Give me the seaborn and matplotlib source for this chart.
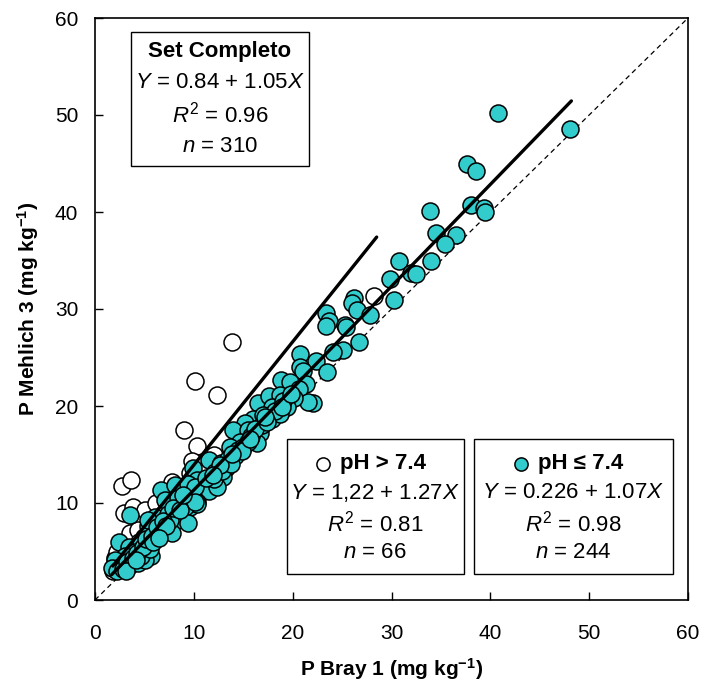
import matplotlib
matplotlib.use("Agg")
import matplotlib.pyplot as plt
import seaborn as sns
import pandas as pd
import numpy as np
from matplotlib.patches import Rectangle

# ---------------- data ----------------
teal_x = [48.1, 40.8, 37.6, 38.6, 33.9, 38.0, 39.4, 39.5, 34.5, 36.5, 35.4, 34.0, 30.8, 29.8,
          32.0, 32.5, 30.3, 26.2, 26.0, 26.5, 27.8, 23.4, 23.7, 23.4, 25.3, 25.4, 26.7, 25.1,
          24.1, 22.4, 20.7, 20.7, 21.0, 23.5, 18.8, 19.7, 21.3, 16.5, 17.6, 22.1,
          20.6, 21.6, 18.7, 20.1, 17.9, 19.4, 16.0, 17.0, 17.9, 18.7, 15.2, 14.0, 15.5, 16.7,
          16.4, 14.7, 13.7, 14.5, 11.5, 12.7, 13.3, 9.9, 12.1, 13.0, 10.3, 11.0, 11.6, 9.4,
          10.6, 11.5, 12.3, 9.3, 10.3, 9.6, 10.3,
          6.7, 8.1, 9.4, 10.1, 7.1, 8.4, 9.1, 10.1, 6.1, 7.4, 8.4, 9.4, 5.4, 6.7, 7.8, 2.4,
          3.4, 4.7, 4.0, 5.4, 5.7, 4.6, 3.0, 2.0, 2.5, 1.7, 3.5, 4.4, 5.1, 3.5,
          7.6, 6.2, 4.7, 5.6, 5.4,
          2.2, 2.8, 3.2, 3.8, 4.2, 4.9, 5.2, 5.8, 6.3, 6.9, 7.2, 7.9, 8.6, 8.9, 5.9, 6.5,
          3.1, 4.1, 12.0, 12.8, 13.5, 14.2, 15.0, 15.8, 13.8, 11.2, 16.9, 18.2, 19.0, 15.5,
          14.9, 16.2, 17.4, 18.9, 12.6, 11.9, 13.9, 15.7, 17.2, 19.8]
teal_y = [48.6, 50.2, 44.9, 44.2, 40.1, 40.7, 40.4, 40.0, 37.8, 37.6, 36.7, 34.9, 35.0, 33.1,
          33.7, 33.6, 30.9, 31.1, 30.6, 29.9, 29.4, 29.6, 28.8, 28.2, 28.4, 28.1, 26.6, 25.8,
          25.6, 24.6, 25.4, 24.0, 23.6, 23.5, 22.7, 22.5, 22.3, 20.3, 21.0, 20.3,
          21.8, 20.4, 21.1, 20.8, 19.9, 19.9, 18.7, 19.1, 18.7, 19.2, 18.2, 17.5, 17.5, 17.2,
          16.2, 16.3, 15.8, 15.5, 14.4, 14.1, 13.6, 13.6, 13.2, 12.7, 12.4, 12.0, 11.7, 11.7,
          11.0, 11.2, 11.7, 10.5, 10.1, 9.6, 9.9,
          11.3, 11.9, 12.0, 11.7, 10.3, 10.5, 9.6, 10.1, 8.6, 8.9, 8.2, 7.9, 7.6, 7.2, 6.9, 6.0,
          5.5, 5.8, 5.0, 5.2, 4.5, 4.5, 4.5, 4.1, 3.4, 3.3, 3.6, 3.8, 4.1, 8.8,
          8.2, 6.9, 4.5, 5.3, 8.2,
          3.0, 3.2, 3.9, 4.3, 4.8, 5.5, 6.3, 6.6, 7.5, 8.1, 7.6, 9.5, 9.3, 10.8, 6.0, 6.4,
          3.0, 4.1, 12.5, 13.3, 14.5, 14.8, 15.8, 16.9, 14.0, 12.6, 18.0, 19.5, 20.5, 16.3,
          15.4, 17.6, 18.3, 19.9, 13.9, 12.9, 15.1, 16.6, 18.9, 21.2]

white_x = [13.9, 10.1, 12.3, 9.0, 10.3, 9.8, 2.7, 3.6, 7.8, 2.9, 3.8, 5.1, 6.2, 3.7, 2.0,
           3.5, 4.4, 28.2, 9.6, 4.5, 5.5, 6.5, 7.5, 8.5, 2.5, 3.0, 4.0, 5.0, 6.0, 7.0, 8.0,
           11.0, 12.0, 2.2, 1.8]
white_y = [26.6, 22.6, 21.1, 17.5, 15.9, 14.3, 11.75, 12.4, 12.2, 9.0, 9.6, 9.3, 10.0, 6.7, 4.3,
           6.9, 7.2, 31.3, 13.1, 6.0, 7.0, 8.5, 9.5, 11.0, 3.5, 4.0, 5.5, 6.5, 7.8, 9.0, 10.0,
           14.0, 15.0, 5.0, 3.0]

# regression fits (intercept, slope, x range)
fit_full = (0.84, 1.05, 1.7, 48.2)
fit_high = (1.22, 1.27, 1.8, 28.5)

box_titles = ["Set Completo", "pH > 7.4", "pH \u2264 7.4"]
box_eq = [r"$\it{Y}$ = 0.84 + 1.05$\it{X}$", r"$\it{Y}$ = 1,22 + 1.27$\it{X}$",
          r"$\it{Y}$ = 0.226 + 1.07$\it{X}$"]
box_r2 = ["0.96", "0.81", "0.98"]
box_n = ["310", "66", "244"]

ticks = [0, 10, 20, 30, 40, 50, 60]
TEAL = "#33CCCC"

# ---------------- style ----------------
sns.set_theme(style="white")
plt.rcParams["font.family"] = ["Liberation Sans", "DejaVu Sans"]
plt.rcParams["mathtext.fontset"] = "custom"
plt.rcParams["mathtext.rm"] = "Liberation Sans"
plt.rcParams["mathtext.it"] = "Liberation Sans:italic"
plt.rcParams["mathtext.bf"] = "Liberation Sans:bold"
plt.rcParams["text.color"] = "black"
plt.rcParams["axes.labelcolor"] = "black"
plt.rcParams["xtick.color"] = "black"
plt.rcParams["ytick.color"] = "black"

fig = plt.figure(figsize=(7.04, 6.84), dpi=100)
ax = fig.add_axes([95 / 704, 1 - 600 / 684, 593 / 704, 582 / 684])

# 1:1 line
sns.lineplot(x=[0, 60], y=[0, 60], ax=ax, color="black", lw=0.9, linestyle=(0, (4, 3)))

df_w = pd.DataFrame({"x": white_x, "y": white_y})
df_t = pd.DataFrame({"x": teal_x, "y": teal_y})
sns.scatterplot(data=df_w, x="x", y="y", ax=ax, s=150, color="white",
                edgecolor="black", linewidth=1.1, zorder=3)
sns.scatterplot(data=df_t, x="x", y="y", ax=ax, s=150, color=TEAL,
                edgecolor="black", linewidth=1.1, zorder=4)

for a, b, x0, x1 in (fit_full, fit_high):
    xs = np.array([x0, x1])
    sns.lineplot(x=xs, y=a + b * xs, ax=ax, color="black", lw=2.4, zorder=5)

ax.set_xlim(0, 60)
ax.set_ylim(0, 60)
ax.set_xticks(ticks)
ax.set_yticks(ticks)
ax.set_xticklabels([str(t) for t in ticks])
ax.set_yticklabels([str(t) for t in ticks])
ax.tick_params(axis="both", direction="in", length=6, width=1, labelsize=15,
               colors="black", labelcolor="black", bottom=True, left=True, top=False, right=False)
ax.tick_params(axis="x", pad=17)
ax.tick_params(axis="y", pad=12)
for s in ax.spines.values():
    s.set_color("black")
    s.set_linewidth(1.2)
    s.set_visible(True)

ax.set_xlabel(r"P Bray 1 (mg kg$^{\mathbf{-1}}$)", fontsize=15, fontweight="bold",
              labelpad=10, color="black")
ax.set_ylabel(r"P Mehlich 3 (mg kg$^{\mathbf{-1}}$)", fontsize=15, fontweight="bold",
              labelpad=10, color="black")

# ---------------- annotation boxes ----------------
W, H = 593.0, 582.0
def fx(px):
    return (px - 95) / W
def fy(py):
    return (600 - py) / H

boxes = [(131, 32, 309, 166), (287, 439, 464, 574), (474, 439, 673, 574)]
for (l, t, r, b) in boxes:
    ax.add_patch(Rectangle((fx(l), fy(b)), fx(r) - fx(l), fy(t) - fy(b),
                           transform=ax.transAxes, facecolor="white", edgecolor="black",
                           lw=1.0, zorder=6))

fs = 16
kw = dict(transform=ax.transAxes, ha="center", va="center", fontsize=fs, zorder=7, color="black")
# box 1
cx = fx(220)
ax.text(cx, fy(52), box_titles[0], fontweight="bold", **kw)
ax.text(cx, fy(83), box_eq[0], **kw)
ax.text(cx, fy(115), r"$\it{R}^{2}$ = " + box_r2[0], **kw)
ax.text(cx, fy(146), r"$\it{n}$ = " + box_n[0], **kw)

for i, (cxp, mcol) in enumerate([(375, "white"), (573, TEAL)], start=1):
    cx = fx(cxp)
    ax.text(cx + fx(103) - fx(95), fy(464), box_titles[i], fontweight="bold", **kw)
    ax.plot([fx(cxp - 52)], [fy(464)], marker="o", ms=9.5, mfc=mcol, mec="black", mew=1.1,
            transform=ax.transAxes, zorder=7, clip_on=False)
    ax.text(cx, fy(493), box_eq[i], **kw)
    ax.text(cx, fy(524), r"$\it{R}^{2}$ = " + box_r2[i], **kw)
    ax.text(cx, fy(553), r"$\it{n}$ = " + box_n[i], **kw)

fig.savefig("out.png", dpi=100)
